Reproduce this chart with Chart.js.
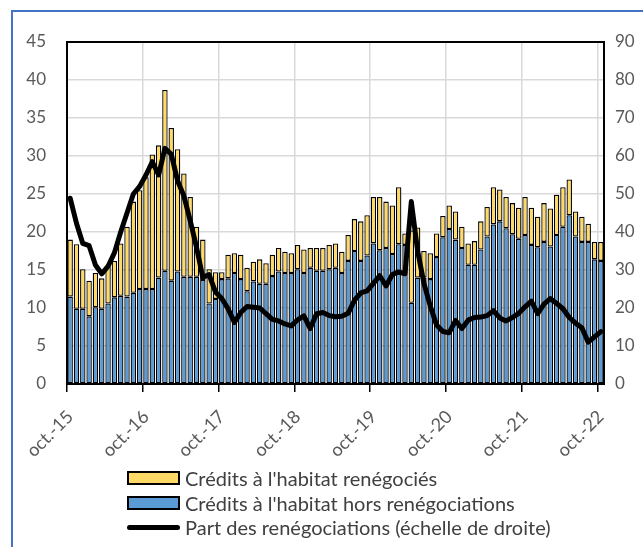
<!DOCTYPE html>
<html>
<head>
<meta charset="utf-8">
<script src="https://cdn.jsdelivr.net/npm/chart.js@4/dist/chart.umd.min.js"></script>
<style>
html,body{margin:0;padding:0;background:#fff;overflow:hidden;}
#wrap{position:relative;width:643px;height:547px;overflow:hidden;}
#frame{position:absolute;left:11px;top:10px;width:700px;height:600px;border:2px solid #4472C4;box-sizing:border-box;}
#c{position:absolute;left:0;top:0;}
#legend{position:absolute;left:127px;top:466px;font-family:Lato,sans-serif;font-size:20px;color:#404040;white-space:nowrap;}
.item{display:flex;align-items:center;height:24.5px;}
.box{width:53px;height:14px;border:2px solid #000;margin-right:5px;box-sizing:border-box;flex:none;}
.ln{width:53px;height:5px;background:#000;border-radius:3px;margin-right:5px;flex:none;}
</style>
</head>
<body>
<div id="wrap">
  <div id="frame"></div>
  <canvas id="c" width="643" height="547"></canvas>
  <div id="legend"></div>
</div>
<script>
// Month names and years for categories (oct.-15 .. oct.-22)
const monthNames = ['janv.','févr.','mars','avr.','mai','juin','juil.','août','sept.','oct.','nov.','déc.'];
const startMonth = 9, startYear = 15, nMonths = 85;
const tickLabels = ['oct.-15','oct.-16','oct.-17','oct.-18','oct.-19','oct.-20','oct.-21','oct.-22'];

const seriesNames = [
  "Crédits à l'habitat renégociés",
  "Crédits à l'habitat hors renégociations",
  "Part des renégociations (échelle de droite)"
];

// Crédits à l'habitat hors renégociations (left axis)
const horsReneg = [
  11.5, 9.9, 9.9, 8.9,10.1, 9.9,10.6,11.4,11.6,11.5,12.0,12.5,
  12.5,12.5,14.0,14.9,13.6,14.8,14.1,14.1,14.1,13.7,10.6,11.2,
  13.8,13.9,14.6,13.8,12.2,13.5,13.2,13.2,14.2,14.8,14.6,14.6,
  15.1,14.6,15.3,14.9,14.9,15.1,15.3,14.6,16.2,17.5,16.2,16.9,
  18.5,17.6,17.9,17.1,18.4,18.3,10.7,14.0,14.0,13.8,16.7,19.3,
  20.4,19.0,17.9,15.7,15.7,17.7,19.4,21.0,21.4,20.5,19.7,19.1,
  19.6,18.3,18.0,18.7,18.1,19.6,20.7,22.2,19.4,18.7,18.7,16.4,
  16.2
];
// Crédits à l'habitat renégociés (left axis, stacked on top)
const reneg = [
   7.5, 8.5, 5.2, 4.7, 4.5, 4.0, 4.9, 4.8, 6.9, 9.2,12.0,13.0,
  14.7,17.7,17.4,23.8,20.1,16.1,13.6,10.5, 6.6, 5.3, 4.5, 3.5,
   0.9, 3.1, 2.6, 3.2, 3.1, 2.6, 3.2, 2.7, 2.8, 3.1, 2.8, 2.6,
   3.2, 3.1, 2.6, 3.0, 3.0, 3.2, 3.2, 2.8, 3.4, 4.2, 5.2, 5.3,
   6.1, 7.0, 6.1, 6.4, 7.5, 1.5, 9.5, 6.6, 3.5, 3.4, 3.1, 2.8,
   3.1, 3.7, 2.8, 2.8, 3.1, 3.7, 3.9, 4.9, 4.2, 4.1, 4.1, 4.1,
   5.0, 4.9, 4.0, 5.1, 5.0, 5.3, 5.2, 4.7, 3.3, 3.3, 2.4, 2.3,
   2.5
];
// Part des renégociations, % (right axis)
const partReneg = [
  48.9,42.3,37.0,36.4,31.3,29.0,31.0,34.5,40.0,45.0,50.0,52.0,
  55.0,58.5,55.0,62.0,60.5,53.5,49.5,43.0,36.0,28.0,28.8,24.2,
  22.5,19.8,16.2,18.8,20.4,20.2,20.0,18.5,17.0,16.6,15.8,15.3,
  16.9,17.9,14.6,18.5,18.8,18.0,17.7,17.8,18.6,22.0,24.0,24.5,
  26.5,28.5,25.8,28.8,29.5,29.0,48.0,35.0,26.5,20.5,15.5,13.8,
  13.5,16.7,14.6,16.8,17.5,17.6,18.0,19.3,17.4,16.6,17.5,18.6,
  20.3,21.8,18.5,21.0,22.5,21.2,19.8,17.5,16.0,14.8,11.0,12.4,
  13.8
];

const categories = [];
for (let i = 0; i < nMonths; i++) {
  const m = (startMonth + i) % 12;
  const y = startYear + Math.floor((startMonth + i) / 12);
  categories.push(monthNames[m] + '-' + y);
}

const labelColor = '#595959';
const gridColor = '#D9D9D9';
const fontFam = 'Lato, sans-serif';

const frameBorder = {
  id: 'frameBorder',
  afterDatasetsDraw(chart) {
    const a = chart.chartArea, ctx = chart.ctx;
    ctx.save();
    ctx.strokeStyle = '#000';
    ctx.lineWidth = 2;
    ctx.strokeRect(a.left, a.top, a.right - a.left, a.bottom - a.top);
    ctx.restore();
  }
};

new Chart(document.getElementById('c'), {
  data: {
    labels: categories,
    datasets: [
      {
        type: 'bar', label: seriesNames[1], data: horsReneg, yAxisID: 'y', stack: 's',
        backgroundColor: '#5B9BD5', borderColor: '#000', borderWidth: 1.3, borderSkipped: false,
        barPercentage: 0.86, categoryPercentage: 1.0, order: 2
      },
      {
        type: 'bar', label: seriesNames[0], data: reneg, yAxisID: 'y', stack: 's',
        backgroundColor: '#FFD966', borderColor: '#000', borderWidth: 1.3, borderSkipped: false,
        barPercentage: 0.86, categoryPercentage: 1.0, order: 2
      },
      {
        type: 'line', label: seriesNames[2], data: partReneg, yAxisID: 'y2',
        borderColor: '#000', borderWidth: 5, pointRadius: 0, tension: 0,
        borderJoinStyle: 'round', borderCapStyle: 'round', fill: false, order: 0
      }
    ]
  },
  options: {
    responsive: false,
    animation: false,
    devicePixelRatio: 1,
    layout: { padding: { top: 42, left: 0, right: 0, bottom: 0 } },
    plugins: { legend: { display: false }, tooltip: { enabled: false } },
    scales: {
      x: {
        type: 'category',
        offset: true,
        stacked: true,
        grid: {
          offset: true,
          color: c => (c.index % 12 === 0 ? gridColor : 'rgba(0,0,0,0)'),
          tickColor: c => (c.index % 12 === 0 ? '#000' : 'rgba(0,0,0,0)'),
          lineWidth: 1.5,
          tickLength: 8,
          tickWidth: 1.5
        },
        border: { display: false },
        ticks: {
          autoSkip: false,
          minRotation: 45, maxRotation: 45,
          color: labelColor,
          font: { family: fontFam, size: 18 },
          padding: 14,
          callback: function (v, i) { return i % 12 === 0 ? tickLabels[i / 12] : ''; }
        },
        afterFit: s => { s.height = 163; }
      },
      y: {
        position: 'left', min: 0, max: 45, stacked: true,
        ticks: { stepSize: 5, color: labelColor, font: { family: fontFam, size: 17 }, padding: 21 },
        grid: { color: gridColor, lineWidth: 1.5, drawTicks: false },
        border: { display: false },
        afterFit: s => { s.width = 67; }
      },
      y2: {
        position: 'right', min: 0, max: 90,
        ticks: { stepSize: 10, color: labelColor, font: { family: fontFam, size: 17 }, padding: 11 },
        grid: { drawOnChartArea: false, drawTicks: false },
        border: { display: false },
        afterFit: s => { s.width = 39; }
      }
    }
  },
  plugins: [frameBorder]
});

// HTML legend
const lg = document.getElementById('legend');
[['box', '#FFD966', seriesNames[0]], ['box', '#5B9BD5', seriesNames[1]], ['ln', '#000', seriesNames[2]]].forEach(([k, col, txt]) => {
  const it = document.createElement('div'); it.className = 'item';
  const sw = document.createElement('span'); sw.className = k;
  if (k === 'box') sw.style.background = col;
  const t = document.createElement('span'); t.textContent = txt;
  it.appendChild(sw); it.appendChild(t); lg.appendChild(it);
});
</script>
</body>
</html>
